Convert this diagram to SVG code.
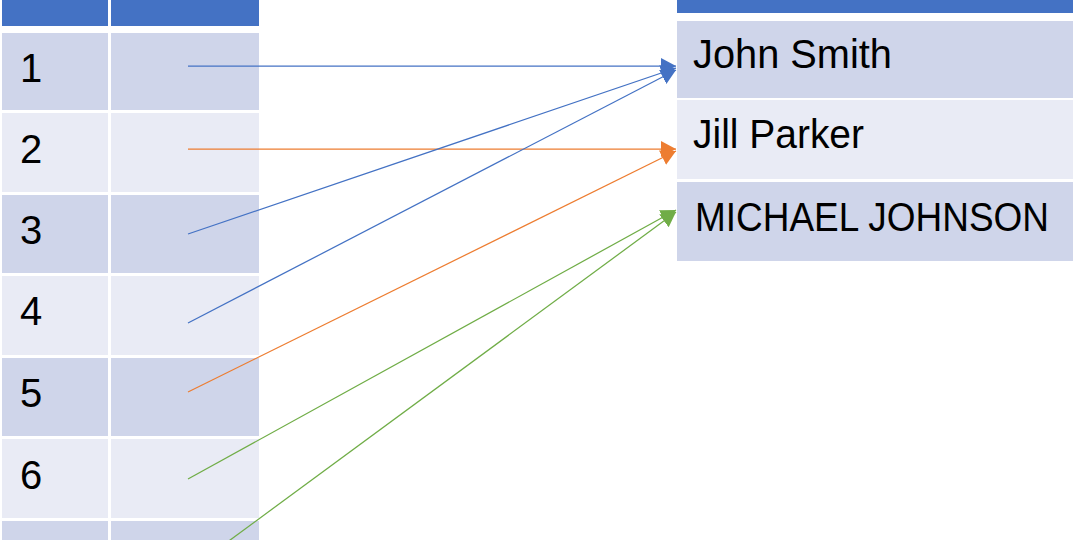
<svg xmlns="http://www.w3.org/2000/svg" width="1080" height="540" viewBox="0 0 1080 540">
<style>
.hd{fill:#4472C4}
.dk{fill:#CFD5EA}
.lt{fill:#E9EBF5}
.t{font-family:"Liberation Sans",Arial,sans-serif;font-size:40px;fill:#000}
.c{fill:none;stroke-width:1.25}
.b{stroke:#4472C4}
.o{stroke:#ED7D31}
.g{stroke:#70AD47}
</style>
<defs>
<marker id="ab" markerUnits="userSpaceOnUse" markerWidth="18" markerHeight="18" refX="15" refY="8" orient="auto"><path d="M0,0 L15,8 L0,16 z" fill="#4472C4"/></marker>
<marker id="ao" markerUnits="userSpaceOnUse" markerWidth="18" markerHeight="18" refX="15" refY="8" orient="auto"><path d="M0,0 L15,8 L0,16 z" fill="#ED7D31"/></marker>
<marker id="ag" markerUnits="userSpaceOnUse" markerWidth="18" markerHeight="18" refX="15" refY="8" orient="auto"><path d="M0,0 L15,8 L0,16 z" fill="#70AD47"/></marker>
</defs>
<rect width="1080" height="540" fill="#FFFFFF"/>
<g id="left-table">
<g id="left-header"><rect class="hd" x="2" y="0" width="106" height="26"/><rect class="hd" x="111" y="0" width="148" height="26"/></g>
<g id="row1"><rect class="dk" x="2" y="33" width="106" height="77"/><rect class="dk" x="111" y="33" width="148" height="77"/><text class="t" x="20" y="82">1</text></g>
<g id="row2"><rect class="lt" x="2" y="113" width="106" height="79"/><rect class="lt" x="111" y="113" width="148" height="79"/><text class="t" x="20" y="163">2</text></g>
<g id="row3"><rect class="dk" x="2" y="195" width="106" height="78"/><rect class="dk" x="111" y="195" width="148" height="78"/><text class="t" x="20" y="244">3</text></g>
<g id="row4"><rect class="lt" x="2" y="276" width="106" height="79"/><rect class="lt" x="111" y="276" width="148" height="79"/><text class="t" x="20" y="325">4</text></g>
<g id="row5"><rect class="dk" x="2" y="358" width="106" height="78"/><rect class="dk" x="111" y="358" width="148" height="78"/><text class="t" x="20" y="407">5</text></g>
<g id="row6"><rect class="lt" x="2" y="439" width="106" height="79"/><rect class="lt" x="111" y="439" width="148" height="79"/><text class="t" x="20" y="489">6</text></g>
<g id="row7"><rect class="dk" x="2" y="521" width="106" height="30"/><rect class="dk" x="111" y="521" width="148" height="30"/></g>
</g>
<g id="right-table">
<g id="right-header"><rect class="hd" x="677" y="0" width="396" height="13"/></g>
<g id="john-smith"><rect class="dk" x="677" y="21" width="396" height="77"/><text class="t" x="693" y="68" textLength="199" lengthAdjust="spacingAndGlyphs">John Smith</text></g>
<g id="jill-parker"><rect class="lt" x="677" y="100" width="396" height="79"/><text class="t" x="693" y="148" textLength="171" lengthAdjust="spacingAndGlyphs">Jill Parker</text></g>
<g id="michael-johnson"><rect class="dk" x="677" y="182" width="396" height="79"/><text class="t" x="695" y="231" textLength="354" lengthAdjust="spacingAndGlyphs">MICHAEL JOHNSON</text></g>
</g>
<g id="connectors">
<line class="c b" x1="188" y1="66" x2="676" y2="66" marker-end="url(#ab)"/>
<line class="c o" x1="188" y1="149" x2="676" y2="149" marker-end="url(#ao)"/>
<line class="c b" x1="188" y1="234" x2="676" y2="68" marker-end="url(#ab)"/>
<line class="c b" x1="188" y1="323" x2="676" y2="70" marker-end="url(#ab)"/>
<line class="c o" x1="188" y1="392" x2="676" y2="151" marker-end="url(#ao)"/>
<line class="c g" x1="188" y1="479" x2="676" y2="210" marker-end="url(#ag)"/>
<line class="c g" x1="188" y1="571" x2="676" y2="212" marker-end="url(#ag)"/>
</g>
</svg>
